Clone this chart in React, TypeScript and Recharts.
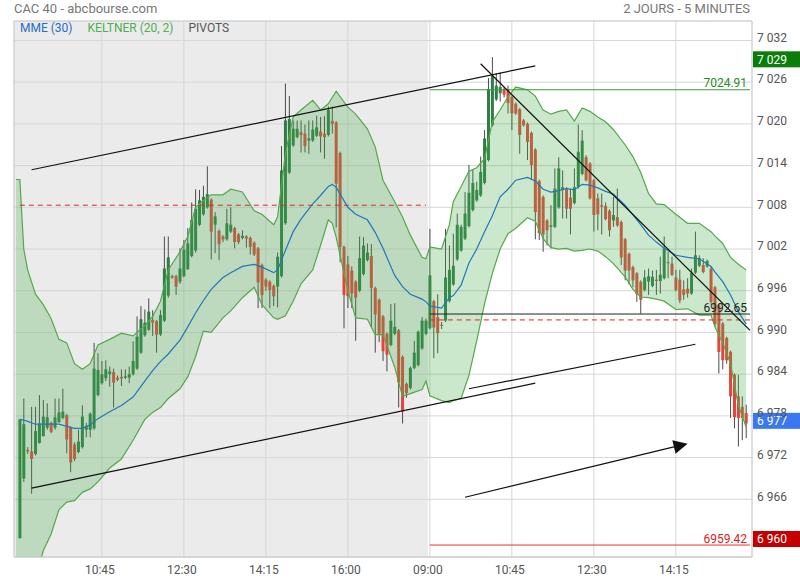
import {
  ComposedChart,
  Bar,
  Area,
  Line,
  XAxis,
  YAxis,
  CartesianGrid,
  ReferenceArea,
  ReferenceLine,
} from 'recharts'

// 5-minute candles, CAC 40, two sessions (index 0..104 = day 1, 105..186 = day 2)
const opens = [
  6960.4, 6969.0, 6973.1, 6972.9, 6972.5, 6974.1, 6975.1, 6976.3, 6977.0, 6976.3,
  6977.1, 6977.7, 6978.1, 6976.4, 6973.9, 6972.8, 6973.5, 6976.0, 6976.0, 6976.2,
  6981.0, 6982.7, 6983.4, 6984.0, 6984.3, 6983.5, 6983.6, 6983.5, 6983.5, 6984.0,
  6984.8, 6987.1, 6989.6, 6990.4, 6991.8, 6991.6, 6989.7, 6991.7, 6995.3, 6998.1,
  6998.1, 6997.3, 6998.1, 6999.1, 7001.0, 7001.8, 7005.5, 7007.0, 7008.0, 7009.1,
  7005.5, 7004.6, 7003.8, 7003.4, 7004.5, 7005.0, 7004.1, 7003.6, 7003.8, 7003.6,
  7002.9, 7002.1, 6999.7, 6997.6, 6997.3, 6996.7, 6996.6, 6998.1, 7005.7, 7013.0,
  7016.9, 7018.1, 7018.8, 7018.6, 7017.6, 7017.6, 7018.3, 7018.9, 7018.6, 7018.4,
  7020.4, 7020.2, 7015.8, 7002.3, 6999.8, 6998.9, 6997.3, 6996.0, 6998.4, 7000.4,
  7001.0, 6996.4, 6994.7, 6992.3, 6989.8, 6988.2, 6989.8, 6990.3, 6986.5, 6982.6,
  6982.0, 6984.9, 6985.3, 6987.7, 6989.8, 6990.6, 6994.5, 6992.2, 6991.1, 6991.7,
  6994.5, 6996.9, 7000.5, 7001.8, 7003.5, 7005.3, 7007.6, 7009.0, 7009.7, 7011.5,
  7014.8, 7019.8, 7023.5, 7024.4, 7025.0, 7025.0, 7023.9, 7022.9, 7022.1, 7020.5,
  7020.0, 7018.7, 7016.3, 7011.8, 7009.5, 7006.1, 7005.2, 7005.2, 7008.0, 7010.5,
  7010.7, 7009.4, 7008.6, 7010.9, 7012.8, 7015.2, 7014.3, 7011.9, 7009.3, 7008.3,
  7008.2, 7007.5, 7006.1, 7006.6, 7005.9, 7003.4, 7001.3, 6999.4, 6998.5, 6997.3,
  6996.1, 6997.3, 6996.7, 6997.6, 6997.4, 6997.8, 7000.0, 6999.9, 6997.9, 6997.6,
  6996.2, 6996.3, 6995.6, 6998.6, 6999.6, 6999.7, 6999.5, 6999.2, 6996.5, 6993.9,
  6991.3, 6989.2, 6987.2, 6983.9, 6980.8, 6979.3, 6978.4,
]
const highs = [
  6977.5, 6980.5, 6973.5, 6979.3, 6979.3, 6981.0, 6980.3, 6979.8, 6977.2, 6980.5,
  6980.5, 6981.9, 6978.3, 6976.5, 6974.2, 6976.0, 6979.5, 6977.0, 6978.5, 6988.5,
  6987.0, 6985.9, 6986.0, 6985.1, 6984.8, 6983.8, 6984.7, 6984.7, 6985.1, 6988.7,
  6992.3, 6993.8, 6993.3, 6994.9, 6993.2, 6991.8, 6993.2, 7003.8, 7003.8, 6998.3,
  6998.3, 7002.1, 7003.3, 7005.0, 7008.7, 7010.6, 7010.5, 7011.1, 7013.9, 7009.3,
  7007.3, 7004.8, 7004.0, 7007.8, 7008.0, 7005.2, 7004.3, 7004.7, 7004.0, 7003.8,
  7003.1, 7002.3, 6999.9, 6997.8, 6997.5, 6996.9, 7001.5, 7016.8, 7025.8, 7024.0,
  7020.5, 7020.5, 7020.5, 7019.9, 7020.5, 7020.5, 7021.2, 7021.0, 7021.1, 7022.5,
  7022.5, 7020.4, 7016.0, 7002.5, 7001.0, 6999.5, 6997.5, 7003.8, 7003.7, 7002.8,
  7002.7, 6996.6, 6994.9, 6992.5, 6990.0, 6994.1, 6994.2, 6990.5, 6986.7, 6982.8,
  6985.1, 6988.8, 6990.3, 6992.2, 6992.0, 7004.9, 6994.7, 6995.5, 6991.5, 7004.9,
  7002.5, 7004.2, 7007.1, 7005.5, 7010.2, 7014.1, 7013.4, 7011.7, 7015.3, 7019.1,
  7026.6, 7029.6, 7027.3, 7027.4, 7025.3, 7025.5, 7024.1, 7023.1, 7022.3, 7020.7,
  7020.2, 7018.9, 7016.5, 7012.0, 7009.7, 7006.3, 7008.3, 7013.6, 7015.2, 7013.3,
  7010.9, 7010.7, 7013.6, 7019.9, 7019.1, 7015.5, 7014.5, 7012.1, 7010.0, 7010.0,
  7008.7, 7007.7, 7009.5, 7010.7, 7006.1, 7003.6, 7001.5, 6999.6, 6998.7, 6997.5,
  6999.0, 6999.2, 6998.9, 6999.0, 7000.9, 7003.8, 7001.6, 7000.9, 6999.0, 6999.0,
  6997.5, 6997.8, 6999.2, 7004.5, 7001.1, 7000.7, 7000.5, 6999.5, 6996.7, 6994.1,
  6991.5, 6989.4, 6987.4, 6984.1, 6983.9, 6980.8, 6979.6,
]
const lows = [
  6960.4, 6968.5, 6972.5, 6966.8, 6972.3, 6974.0, 6975.0, 6976.0, 6975.5, 6976.0,
  6977.0, 6977.5, 6972.6, 6969.9, 6971.5, 6972.6, 6973.3, 6974.9, 6974.9, 6976.0,
  6980.8, 6982.5, 6983.0, 6982.2, 6979.2, 6983.0, 6982.3, 6983.3, 6982.7, 6983.8,
  6984.6, 6986.9, 6989.4, 6990.2, 6989.5, 6987.1, 6989.5, 6991.5, 6995.0, 6997.7,
  6995.4, 6997.0, 6997.9, 6999.0, 7000.8, 7001.5, 7005.3, 7006.8, 7007.8, 7000.5,
  7001.4, 7000.4, 7003.0, 7003.2, 7004.3, 7002.1, 7002.7, 7003.4, 7002.2, 7001.2,
  7001.0, 6993.5, 6993.5, 6996.0, 6993.5, 6993.8, 6993.6, 6997.9, 7005.5, 7012.8,
  7016.7, 7017.9, 7015.9, 7015.9, 7015.7, 7017.4, 7018.1, 7015.9, 7015.0, 7018.2,
  7018.6, 7005.1, 7000.1, 6990.6, 6993.5, 6993.5, 6988.8, 6995.8, 6998.2, 7000.2,
  6990.7, 6987.1, 6988.6, 6985.9, 6984.4, 6988.0, 6989.6, 6979.2, 6976.9, 6980.6,
  6981.8, 6984.7, 6985.1, 6987.5, 6989.6, 6990.4, 6986.3, 6987.0, 6990.5, 6991.5,
  6994.3, 6996.7, 7000.3, 7001.6, 7003.3, 7005.1, 7007.4, 7008.8, 7009.5, 7011.3,
  7014.6, 7019.6, 7023.3, 7023.2, 7023.8, 7021.5, 7019.1, 7021.3, 7015.7, 7019.6,
  7014.8, 7011.9, 7003.4, 7003.3, 7001.6, 7002.5, 7002.1, 7005.0, 7007.8, 7006.4,
  7006.4, 7004.1, 7008.4, 7010.7, 7012.6, 7011.7, 7009.1, 7004.5, 7004.7, 7004.1,
  7006.1, 7003.8, 7005.2, 7005.2, 6999.7, 6997.5, 6996.9, 6996.5, 6994.4, 6992.7,
  6995.9, 6995.4, 6996.5, 6995.4, 6995.6, 6997.6, 6997.8, 6998.1, 6995.9, 6994.2,
  6994.7, 6995.0, 6995.4, 6998.4, 6999.4, 6998.5, 6999.3, 6994.0, 6990.8, 6984.1,
  6984.7, 6985.5, 6977.7, 6976.2, 6973.6, 6974.5, 6974.8,
]
const closes = [
  6977.5, 6976.8, 6972.9, 6971.8, 6975.8, 6976.9, 6977.9, 6977.8, 6975.7, 6977.8,
  6978.5, 6978.6, 6974.6, 6971.3, 6971.8, 6974.3, 6977.9, 6976.5, 6978.3, 6984.8,
  6984.6, 6984.0, 6984.7, 6984.4, 6982.8, 6983.2, 6983.4, 6983.7, 6984.0, 6985.9,
  6989.4, 6991.9, 6991.4, 6993.0, 6991.4, 6989.7, 6992.5, 6999.2, 7000.8, 6997.9,
  6996.6, 6999.2, 7001.9, 7002.8, 7006.2, 7007.8, 7009.0, 7009.5, 7009.9, 7004.5,
  7006.7, 7002.7, 7003.4, 7005.7, 7005.5, 7003.0, 7003.0, 7003.9, 7003.5, 7002.3,
  7001.2, 6997.2, 6995.4, 6996.6, 6996.1, 6995.2, 7000.9, 7013.3, 7020.5, 7020.7,
  7019.3, 7019.3, 7018.4, 7016.8, 7017.9, 7019.2, 7019.5, 7018.2, 7018.1, 7022.0,
  7020.0, 7011.4, 7002.3, 6995.4, 6995.2, 6995.6, 6995.0, 7000.7, 7002.5, 7001.5,
  6996.4, 6992.6, 6989.8, 6987.3, 6986.8, 6991.7, 6990.8, 6982.8, 6978.6, 6981.3,
  6984.9, 6987.1, 6990.1, 6991.7, 6991.7, 6998.2, 6990.7, 6989.9, 6991.0, 6997.9,
  6999.0, 6999.6, 7005.5, 7005.2, 7007.1, 7010.1, 7011.5, 7010.5, 7013.1, 7017.9,
  7025.0, 7026.9, 7025.5, 7025.3, 7024.2, 7023.0, 7021.5, 7021.5, 7018.4, 7019.8,
  7017.4, 7014.1, 7007.3, 7004.3, 7004.1, 7004.7, 7005.4, 7010.7, 7013.6, 7010.9,
  7007.8, 7007.8, 7010.9, 7016.0, 7017.6, 7011.9, 7009.3, 7006.9, 7007.0, 7008.1,
  7006.3, 7004.7, 7006.9, 7005.4, 7000.8, 6998.9, 6998.9, 6997.5, 6995.5, 6994.7,
  6997.9, 6998.1, 6998.0, 6997.4, 6998.3, 7002.1, 7000.1, 6998.3, 6996.1, 6994.6,
  6995.4, 6995.6, 6998.6, 7001.1, 7000.7, 6998.7, 7000.3, 6994.4, 6991.2, 6987.2,
  6986.0, 6986.0, 6980.8, 6977.8, 6977.7, 6977.7, 6976.9,
]

// indicator readings (slot index where each value was read; -1 is the left edge)
const bandIdx = [
  -1, 0, 1, 2, 4, 6, 8, 10, 12, 14, 16, 18, 20, 23, 26, 29, 32, 34, 36, 38, 41,
  43, 45, 47, 49, 52, 54, 57, 60, 62, 65, 66, 68, 70, 72, 75, 77, 79, 80, 81, 84,
  86, 89, 91, 93, 96, 98, 100, 103, 104, 105, 108, 110, 111, 113, 115, 117, 119, 121, 123, 125,
  127, 130, 132, 134, 136, 138, 140, 142, 144, 146, 148, 150, 152, 155, 157, 159, 161, 163, 165, 168,
  171, 174, 177, 178, 180, 182, 184, 186,
]
const keltnerUpper = [
  7012.0, 7012.0, 7002.0, 6999.0, 6995.5, 6994.0, 6992.0, 6989.0, 6988.5, 6985.5, 6984.7, 6985.5, 6988.2, 6989.0, 6989.9, 6989.5, 6991.0, 6992.3, 6994.5, 6999.0, 7001.6,
  7003.8, 7008.0, 7009.0, 7009.8, 7009.8, 7010.6, 7010.2, 7007.5, 7007.0, 7005.5, 7006.6, 7015.7, 7021.0, 7022.0, 7023.4, 7022.0, 7022.9, 7023.8, 7024.7, 7022.4,
  7021.4, 7019.3, 7016.7, 7011.9, 7008.8, 7006.6, 7004.0, 7000.8, 7000.6, 7002.3, 7002.0, 7005.5, 7008.8, 7011.0, 7013.2, 7013.7, 7015.0, 7020.3, 7022.0, 7023.9,
  7025.3, 7024.9, 7024.0, 7022.0, 7021.4, 7021.8, 7022.0, 7020.4, 7022.3, 7021.8, 7021.0, 7020.3, 7019.2, 7017.0, 7015.3, 7013.0, 7010.0, 7008.5, 7008.4, 7007.0,
  7005.7, 7005.7, 7004.5, 7003.9, 7002.8, 7000.8, 6999.8, 6999.0,
]
const keltnerLower = [
  6942.0, 6944.0, 6947.0, 6950.0, 6954.5, 6958.6, 6961.0, 6964.5, 6965.6, 6965.8, 6967.0, 6967.5, 6968.5, 6970.5, 6971.8, 6974.5, 6977.5, 6978.5, 6979.2, 6980.5, 6981.9,
  6983.6, 6986.5, 6990.2, 6990.0, 6992.1, 6993.1, 6995.0, 6996.5, 6994.0, 6992.1, 6991.9, 6992.4, 6994.5, 6997.0, 6999.0, 7002.5, 7006.2, 7005.7, 7003.7, 6996.0,
  6992.1, 6991.9, 6989.7, 6989.7, 6985.0, 6980.8, 6981.2, 6981.8, 6983.0, 6980.9, 6980.2, 6979.9, 6980.2, 6980.5, 6983.8, 6988.8, 6994.1, 6998.5, 7002.0, 7004.2,
  7005.0, 7006.5, 7006.0, 7003.5, 7002.2, 7002.0, 7002.1, 7001.7, 7001.8, 7002.0, 7001.7, 7000.9, 6999.9, 6998.0, 6996.2, 6995.1, 6995.0, 6994.8, 6994.5, 6993.3,
  6993.4, 6992.5, 6992.5, 6990.8, 6988.5, 6985.5, 6979.5, 6976.4,
]
const mme30 = [
  null, 6977.5, 6977.4, 6977.2, 6976.8, 6976.8, 6976.8, 6976.8, 6976.5, 6976.2, 6976.2, 6976.7, 6977.6, 6978.6, 6979.5, 6980.7, 6983.0, 6984.5, 6985.8, 6986.9, 6988.9,
  6990.8, 6992.8, 6994.6, 6996.2, 6997.9, 6998.6, 6999.5, 6999.8, 6999.4, 6998.6, 6999.0, 7001.8, 7004.5, 7006.3, 7008.5, 7009.7, 7011.0, 7011.3, 7010.9, 7008.0,
  7007.0, 7006.2, 7004.4, 7002.1, 6998.2, 6996.6, 6995.5, 6994.8, 6994.4, 6993.8, 6993.5, 6995.0, 6995.3, 6996.8, 7000.0, 7002.0, 7004.5, 7006.8, 7009.5, 7010.6,
  7011.9, 7012.3, 7011.8, 7010.6, 7010.2, 7010.4, 7010.7, 7010.5, 7011.3, 7011.2, 7010.8, 7010.3, 7009.9, 7008.3, 7006.9, 7005.5, 7004.0, 7003.0, 7002.1, 7001.1,
  7000.8, 7000.6, 6999.5, 6998.7, 6997.3, 6995.4, 6993.0, 6991.2,
]

const priceTicks = [6966, 6972, 6978, 6984, 6990, 6996, 7002, 7008, 7014, 7020, 7026, 7032]
const timeTickIdx = [21, 42, 63, 84, 105, 126, 147, 168]
const timeTickLabels = ['10:45', '12:30', '14:15', '16:00', '09:00', '10:45', '12:30', '14:15']

const lastDay1 = 104
const firstDay2 = 105

// pivots / levels
const day1Pivot = 7008.3
const day2Pivot = 6991.8
const supportLevel = 6992.65
const highLevel = 7024.91
const lowLevel = 6959.42
const prevCloseTag = 7029
const lastTag = 6977
const lowTag = 6960

// hand-drawn trend lines, [index, price]
const channelTop = [[3, 7013.4], [132, 7028.35]]
const channelBottom = [[3, 6967.6], [132, 6982.7]]
const risingLine = [[115, 6981.9], [173, 6988.3]]
const fallingLine = [[118, 7028.65], [187, 6990.3]]
const arrowLine = [[114, 6966.3], [171, 6974.0]]

const GREEN = '#2f7d45'
const RED = '#e0443a'
const WICK = '#4a4a4a'
const FONT = 'Roboto, "Noto Sans", sans-serif'

const bandPos = new Map(bandIdx.map((d, k) => [d, k]))
const chartData = Array.from({ length: 189 }, (_, k) => {
  const i = k - 1
  const has = i >= 0 && i < opens.length
  const b = bandPos.get(i)
  return {
    i,
    range: has ? [lows[i], highs[i]] : null,
    o: has ? opens[i] : null,
    h: has ? highs[i] : null,
    l: has ? lows[i] : null,
    c: has ? closes[i] : null,
    band: b != null ? [keltnerLower[b], keltnerUpper[b]] : null,
    upper: b != null ? keltnerUpper[b] : null,
    lower: b != null ? keltnerLower[b] : null,
    ema: b != null ? mme30[b] : null,
  }
})

const seg = (pts: number[][]) => pts.map(([x, y]) => ({ x, y }))
const fmtPrice = (v: number) => `${Math.floor(v / 1000)} ${String(v % 1000).padStart(3, '0')}`

function Candle(props: any) {
  const { x, y, width, height, payload } = props
  if (!payload || payload.o == null) return null
  const { o, h, l, c } = payload
  const top = Math.min(y, y + height)
  const bottom = Math.max(y, y + height)
  const k = h === l ? 0 : (bottom - top) / (h - l)
  const yTop = top + (h - Math.max(o, c)) * k
  const yBot = top + (h - Math.min(o, c)) * k
  const cx = x + width / 2
  return (
    <g>
      <line x1={cx} x2={cx} y1={top} y2={bottom} stroke={WICK} strokeWidth={1} />
      <rect x={cx - 1.5} y={yTop} width={3} height={Math.max(1, yBot - yTop)} fill={c >= o ? GREEN : RED} />
    </g>
  )
}

function LevelLabel({ viewBox, text, color }: any) {
  if (!viewBox) return null
  return (
    <text x={viewBox.x + viewBox.width - 3} y={viewBox.y - 2.5} textAnchor="end" fill={color} fontSize={12} fontFamily={FONT}>
      {text}
    </text>
  )
}

function PriceTag({ viewBox, text, color }: any) {
  if (!viewBox) return null
  const x = viewBox.x + viewBox.width + 1
  const y = viewBox.y - 2
  return (
    <g>
      <rect x={x} y={y - 8} width={48} height={16} fill={color} />
      <text x={x + 4} y={y} dy="0.355em" fill="#fff" fontSize={12} fontFamily={FONT}>
        {text}
      </text>
    </g>
  )
}

function Arrow(props: any) {
  const { x1, y1, x2, y2 } = props
  const a = Math.atan2(y2 - y1, x2 - x1)
  const len = 14
  const half = 7
  const bx = x2 - len * Math.cos(a)
  const by = y2 - len * Math.sin(a)
  const px = -Math.sin(a) * half
  const py = Math.cos(a) * half
  return (
    <g>
      <line x1={x1} y1={y1} x2={bx} y2={by} stroke="#111" strokeWidth={1.2} />
      <polygon points={`${x2},${y2} ${bx + px},${by + py} ${bx - px},${by - py}`} fill="#111" />
    </g>
  )
}

const XTick = ({ x, y, payload }: any) => {
  const k = timeTickIdx.indexOf(payload.value)
  return (
    <text x={x - 2} y={y + 13} dy="0.355em" textAnchor="middle" fill="#555" fontSize={12} fontFamily={FONT}>
      {k >= 0 ? timeTickLabels[k] : ''}
    </text>
  )
}

const YTick = ({ x, y, payload }: any) => (
  <text x={x} y={y - 3} dy="0.355em" textAnchor="start" fill="#555" fontSize={12} fontFamily={FONT}>
    {fmtPrice(payload.value)}
  </text>
)

export default function App() {
  return (
    <div style={{ position: 'absolute', left: 0, top: 0, width: 800, height: 580, background: '#fff', fontFamily: FONT }}>
      <div style={{ position: 'absolute', left: 14, top: 0, fontSize: 13, color: '#777', lineHeight: '17px' }}>
        CAC 40 - abcbourse.com
      </div>
      <div style={{ position: 'absolute', right: 50, top: 0, fontSize: 13, color: '#777', lineHeight: '17px' }}>
        2 JOURS - 5 MINUTES
      </div>
      <ComposedChart
        width={800}
        height={580}
        data={chartData}
        margin={{ top: 21, right: 0, bottom: 0, left: 14 }}
        barCategoryGap={0}
      >
        <ReferenceArea x1={-1} x2={lastDay1} fill="#ebebeb" fillOpacity={1} stroke="none" zIndex={-150} />
        <CartesianGrid stroke="#d6d6d6" />
        <XAxis
          dataKey="i"
          type="category"
          ticks={timeTickIdx}
          interval={0}
          tick={<XTick />}
          tickLine={false}
          tickSize={0}
          tickMargin={0}
          height={23}
          axisLine={{ stroke: '#d0d0d0' }}
        />
        <YAxis
          orientation="right"
          width={48}
          domain={[6957.7, 7034.8]}
          allowDataOverflow
          ticks={priceTicks}
          interval={0}
          tick={<YTick />}
          tickLine={false}
          tickSize={0}
          tickMargin={5}
          axisLine={false}
        />
        <ReferenceArea x1={-1} x2={187} y1={6957.7} y2={7034.8} fill="none" stroke="#d0d0d0" />

        <Bar dataKey="range" shape={<Candle />} isAnimationActive={false} />
        <Area
          dataKey="band"
          type="linear"
          connectNulls
          stroke="none"
          fill="#4caf50"
          fillOpacity={0.29}
          isAnimationActive={false}
          zIndex={350}
        />
        <Line dataKey="upper" type="linear" connectNulls dot={false} stroke="#55a84a" strokeWidth={1.2} isAnimationActive={false} />
        <Line dataKey="lower" type="linear" connectNulls dot={false} stroke="#55a84a" strokeWidth={1.2} isAnimationActive={false} />
        <Line dataKey="ema" type="linear" connectNulls dot={false} stroke="#2277bb" strokeWidth={1.2} isAnimationActive={false} />

        <ReferenceLine segment={[{ x: 0, y: day1Pivot }, { x: lastDay1, y: day1Pivot }]} stroke="#d03030" strokeDasharray="5 4" zIndex={600} />
        <ReferenceLine segment={[{ x: firstDay2, y: day2Pivot }, { x: 187, y: day2Pivot }]} stroke="#e82020" strokeDasharray="5 4" zIndex={600} />
        <ReferenceLine
          segment={[{ x: firstDay2, y: supportLevel }, { x: 187, y: supportLevel }]}
          stroke="#222"
          zIndex={600}
          label={<LevelLabel text="6992.65" color="#222" />}
        />
        <ReferenceLine
          segment={[{ x: firstDay2, y: highLevel }, { x: 187, y: highLevel }]}
          stroke="#3a9a3a"
          zIndex={600}
          label={<LevelLabel text="7024.91" color="#2a8a2a" />}
        />
        <ReferenceLine
          segment={[{ x: firstDay2, y: lowLevel }, { x: 187, y: lowLevel }]}
          stroke="#e83030"
          zIndex={600}
          label={<LevelLabel text="6959.42" color="#e02020" />}
        />

        <ReferenceLine segment={seg(channelTop)} stroke="#111" strokeWidth={1.2} zIndex={600} />
        <ReferenceLine segment={seg(channelBottom)} stroke="#111" strokeWidth={1.2} zIndex={600} />
        <ReferenceLine segment={seg(risingLine)} stroke="#111" strokeWidth={1.2} zIndex={600} />
        <ReferenceLine segment={seg(fallingLine)} stroke="#111" strokeWidth={1.2} zIndex={600} />
        <ReferenceLine segment={seg(arrowLine)} stroke="#111" zIndex={600} shape={(p: any) => <Arrow {...p} />} />

        <ReferenceLine y={prevCloseTag} stroke="none" label={<PriceTag text={fmtPrice(prevCloseTag)} color="#0a7d0a" />} />
        <ReferenceLine y={lastTag} stroke="none" label={<PriceTag text={fmtPrice(lastTag)} color="#3a78f0" />} />
        <ReferenceLine y={lowTag} stroke="none" label={<PriceTag text={fmtPrice(lowTag)} color="#c40000" />} />
      </ComposedChart>
      <div style={{ position: 'absolute', left: 20, top: 20, fontSize: 12, lineHeight: '16px', display: 'flex', gap: 0 }}>
        <span style={{ color: '#1e6fc8', marginRight: 15 }}>MME (30)</span>
        <span style={{ color: '#4caf50', marginRight: 15 }}>KELTNER (20, 2)</span>
        <span style={{ color: '#555' }}>PIVOTS</span>
      </div>
    </div>
  )
}
